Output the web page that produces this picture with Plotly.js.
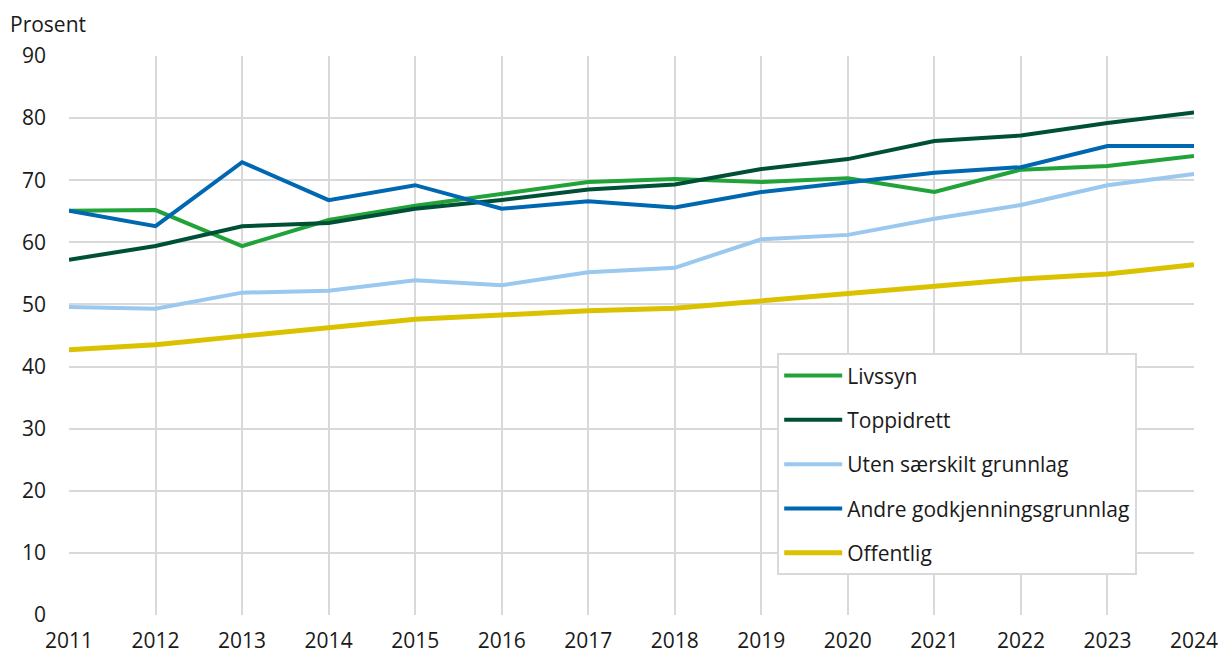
<!DOCTYPE html>
<html>
<head>
<meta charset="utf-8">
<script src="https://cdn.plot.ly/plotly-3.0.1.min.js"></script>
<style>html,body{margin:0;padding:0;background:#fff;}#chart{width:1220px;height:655px;}</style>
</head>
<body>
<div id="chart"></div>
<script>
const years = [2011,2012,2013,2014,2015,2016,2017,2018,2019,2020,2021,2022,2023,2024];
const seriesNames = ["Livssyn","Toppidrett","Uten særskilt grunnlag","Andre godkjenningsgrunnlag","Offentlig"];
const livssyn =    [65.1,65.2,59.4,63.6,65.9,67.8,69.7,70.2,69.7,70.3,68.1,71.7,72.3,73.9];
const toppidrett = [57.2,59.4,62.6,63.1,65.4,66.8,68.5,69.3,71.8,73.4,76.3,77.2,79.2,80.9];
const uten =       [49.6,49.3,51.9,52.2,53.9,53.1,55.2,55.9,60.5,61.2,63.8,66.0,69.2,71.0];
const andre =      [65.1,62.6,72.9,66.8,69.2,65.4,66.6,65.6,68.1,69.6,71.2,72.1,75.5,75.5];
const offentlig =  [42.7,43.5,44.9,46.3,47.6,48.3,49.0,49.4,50.6,51.9,52.9,54.1,54.9,56.4];
const yTicks = [0,10,20,30,40,50,60,70,80,90];

const allValues = [livssyn,toppidrett,uten,andre,offentlig];
const colors = ["#22a33a","#005038","#9ac8ef","#0067b1","#dbc200"];
const widths = [4,4,4,4,5];

const traces = allValues.map((v,i)=>({
  type:"scatter", mode:"lines", x:years, y:v, name:seriesNames[i],
  legendgroup:"g"+i,
  line:{color:colors[i], width:widths[i]},
  hoverinfo:"x+y+name"
}));

const layout = {
  width:1220, height:655,
  margin:{l:69, r:26, t:56, b:40},
  paper_bgcolor:"#fff", plot_bgcolor:"#fff",
  font:{family:"'Open Sans', sans-serif", size:21, color:"#1a1a1a"},
  showlegend:true,
  legend:{
    x:0.6295, y:0.468, xanchor:"left", yanchor:"top",
    bordercolor:"#d9d9d9", borderwidth:2, bgcolor:"#fff",
    traceorder:"grouped", tracegroupgap:14, itemwidth:58,
    font:{size:21, color:"#1a1a1a"}
  },
  xaxis:{
    range:[2011,2024], tickmode:"array", tickvals:years, ticktext:years.map(String),
    showgrid:true, gridcolor:"#d9d9d9", gridwidth:2,
    zeroline:false, showline:false, ticks:"", ticklabelstandoff:11, fixedrange:true
  },
  yaxis:{
    range:[0,90], tickmode:"array", tickvals:yTicks, ticktext:yTicks.map(String),
    showgrid:true, gridcolor:"#d9d9d9", gridwidth:2,
    zeroline:false, showline:false, ticks:"", ticklabelstandoff:22, fixedrange:true
  },
  annotations:[{
    text:"Prosent", xref:"paper", yref:"paper", x:-61/1125, y:1, yshift:16,
    xanchor:"left", yanchor:"bottom", showarrow:false,
    font:{size:21, color:"#1a1a1a"}
  }]
};

Plotly.newPlot("chart", traces, layout, {displayModeBar:false, staticPlot:true});
</script>
</body>
</html>
